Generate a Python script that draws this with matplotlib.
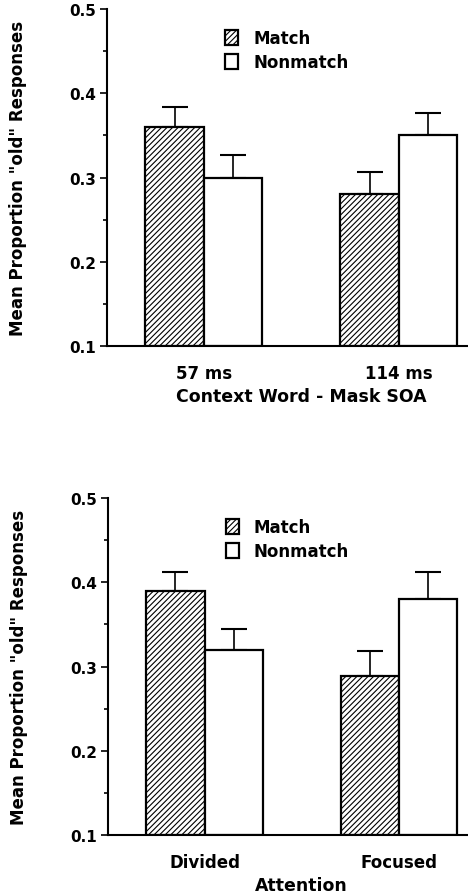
import numpy as np
import matplotlib
matplotlib.use("Agg")
import matplotlib.pyplot as plt

# =========================
# Data
# =========================
series = ["Match", "Nonmatch"]

soa_labels = ["57 ms", "114 ms"]
soa_match = [0.36, 0.28]
soa_nonmatch = [0.30, 0.35]
soa_match_err = [0.024, 0.026]
soa_nonmatch_err = [0.027, 0.026]

att_labels = ["Divided", "Focused"]
att_match = [0.39, 0.289]
att_nonmatch = [0.32, 0.38]
att_match_err = [0.022, 0.029]
att_nonmatch_err = [0.024, 0.032]

plt.rcParams.update({
    "font.family": "DejaVu Sans",
    "font.weight": "bold",
    "axes.linewidth": 1.5,
    "hatch.linewidth": 0.8,
})

fig = plt.figure(figsize=(4.68, 8.95), dpi=100)
ax_top = fig.add_axes([0.2286, 0.6123, 0.7714, 0.3765])
ax_bot = fig.add_axes([0.2308, 0.0659, 0.7692, 0.3765])


def draw_panel(ax, labels, match, nonmatch, match_err, nonmatch_err, xlabel):
    x = np.arange(len(labels))
    w = 0.30
    zeros = np.zeros(len(labels))
    ax.bar(x - w/2, np.array(match) - 0.1, bottom=0.1, width=w,
           facecolor="white", edgecolor="black", hatch="//////",
           linewidth=1.6, label=series[0], zorder=2)
    ax.bar(x + w/2, np.array(nonmatch) - 0.1, bottom=0.1, width=w,
           facecolor="white", edgecolor="black",
           linewidth=1.6, label=series[1], zorder=2)
    ax.errorbar(x - w/2, match, yerr=[zeros, match_err], fmt="none",
                ecolor="black", elinewidth=1.2, capsize=9.5, capthick=1.5, zorder=1)
    ax.errorbar(x + w/2, nonmatch, yerr=[zeros, nonmatch_err], fmt="none",
                ecolor="black", elinewidth=1.2, capsize=9.5, capthick=1.5, zorder=1)

    ax.set_xlim(-0.497, 1.354)
    ax.set_ylim(0.1, 0.5)
    ax.set_yticks([0.1, 0.2, 0.3, 0.4, 0.5])
    ax.set_yticks(np.arange(0.15, 0.5, 0.1), minor=True)
    ax.set_yticklabels(["0.1", "0.2", "0.3", "0.4", "0.5"], fontsize=11, fontweight="bold")
    ax.tick_params(axis="y", which="major", length=5, width=1.2, pad=3)
    ax.tick_params(axis="y", which="minor", length=3, width=1.2)
    ax.set_xticks(x)
    ax.set_xticklabels(labels, fontsize=12, fontweight="bold")
    ax.tick_params(axis="x", length=0, pad=13)
    ax.spines["top"].set_visible(False)
    ax.spines["right"].set_visible(False)

    ax.set_ylabel('Mean Proportion "old" Responses', fontsize=12,
                  fontweight="bold", labelpad=30)
    ax.text(0.537, -0.148, xlabel, transform=ax.transAxes, ha="center",
            va="center", fontsize=12.5, fontweight="bold")

    ax.legend(loc="upper left", bbox_to_anchor=(0.285, 0.985), frameon=False,
              handlelength=0.8, handleheight=1.0, handletextpad=0.9,
              labelspacing=0.35, prop={"size": 12, "weight": "bold"})


draw_panel(ax_top, soa_labels, soa_match, soa_nonmatch, soa_match_err,
           soa_nonmatch_err, "Context Word - Mask SOA")
draw_panel(ax_bot, att_labels, att_match, att_nonmatch, att_match_err,
           att_nonmatch_err, "Attention")

fig.savefig("out.png", dpi=100)
